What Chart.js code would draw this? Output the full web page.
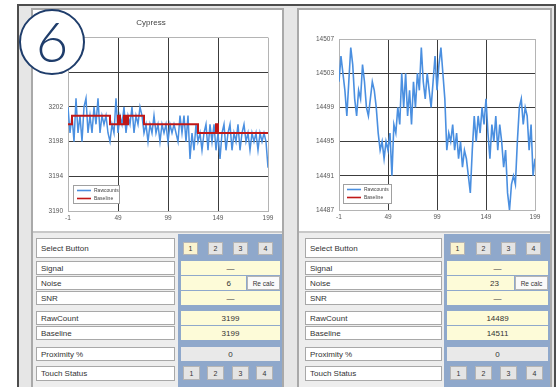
<!DOCTYPE html>
<html>
<head>
<meta charset="utf-8">
<script src="https://cdn.jsdelivr.net/npm/chart.js@4.4.1/dist/chart.umd.min.js"></script>
<style>
  body { margin: 0; width: 556px; height: 387px; overflow: hidden; background: #fff; font-family: "Liberation Sans", Arial, sans-serif; }
  .abs { position: absolute; box-sizing: border-box; }
  .frame { left: 17px; top: 4px; width: 539px; height: 400px; border: 2px solid #4d4d4d; border-bottom: none; background: #e6e6e6; }
  .panel { top: 8px; height: 400px; border: 2px solid #a9a9a9; border-bottom: none; background: #ededed; }
  .chartbox { background: #fff; border-bottom: 2px solid #c8c8c8; }
  .valcol { background: #8fa8cb; }
  .lbl { background: #fff; border: 1px solid #a8a8a8; font-size: 8px; color: #333; padding-left: 4px; display: flex; align-items: center; }
  .cell { background: #fdfbd8; font-size: 8px; color: #333; display: flex; align-items: center; justify-content: center; }
  .cell.gray { background: #e9e9e9; }
  .cell.right { justify-content: flex-end; padding-right: 15px; }
  .btn { background: #e4e4e4; border: 1px solid #b5b5b5; font-size: 7px; color: #333; display: flex; align-items: center; justify-content: center; }
  .btn.sel { background: #fbf3cf; }
  .btn.white { background: #fafafa; font-size: 6.5px; }
  .circle { left: 19px; top: 9px; width: 66px; height: 66px; border: 2.5px solid #1f3d6b; border-radius: 50%; background: #fff; z-index: 5;
            color: #1f3d6b; font-family: "Lato", "Open Sans", sans-serif; font-weight: 300; font-size: 56px; line-height: 60px; text-align: center; }
</style>
</head>
<body>
<div class="abs frame"></div>
<div class="abs panel" style="left:31px;width:253px;"></div>
<div class="abs panel" style="left:297px;width:255px;"></div>
<div class="abs chartbox" style="left:33px;top:10px;width:249px;height:223px;"></div>
<div class="abs chartbox" style="left:299px;top:10px;width:251px;height:223px;"></div>
<div class="abs valcol" style="left:178px;top:234px;width:104px;height:160px;"></div>
<div class="abs valcol" style="left:444px;top:234px;width:106px;height:160px;"></div>
<div class="abs" style="left:34px;top:10px;width:247px;height:220px;"><canvas id="leftChart"></canvas></div>
<div class="abs" style="left:299px;top:10px;width:250px;height:220px;"><canvas id="rightChart"></canvas></div>
<div class="abs circle">6</div>
<div id="tables"></div>

<script>
// sensor readings, one sample every 2 counts starting at -1
const sampleStart = -1;
const sampleStep = 2;

const leftRaw = [
  3202, 3199, 3201, 3198, 3203, 3199, 3201, 3198, 3202, 3203,
  3199, 3201, 3199, 3202, 3200, 3203, 3199, 3201, 3200, 3201,
  3199, 3198, 3200, 3199, 3203, 3199, 3201, 3200, 3202, 3199,
  3201, 3200, 3202, 3199, 3201, 3200, 3202, 3201, 3199, 3200,
  3198, 3200, 3199, 3201, 3199, 3200, 3198, 3200, 3199, 3200,
  3198, 3200, 3199, 3200, 3199, 3198, 3201, 3199, 3201, 3198,
  3201, 3196, 3199, 3197, 3200, 3198, 3199, 3197, 3199, 3200,
  3197, 3200, 3198, 3200, 3197, 3199, 3196, 3199, 3200, 3197,
  3199, 3200, 3197, 3199, 3198, 3200, 3197, 3199, 3200, 3198,
  3199, 3197, 3199, 3198, 3199, 3197, 3199, 3198, 3199, 3198,
  3195
];
const leftBaseline = [
  3200, 3200, 3201, 3201, 3201, 3201, 3201, 3201, 3201, 3201,
  3201, 3201, 3201, 3201, 3201, 3201, 3201, 3201, 3201, 3201,
  3201, 3200, 3200, 3200, 3200, 3201, 3200, 3200, 3201, 3200,
  3201, 3201, 3201, 3201, 3201, 3201, 3201, 3201, 3200, 3200,
  3200, 3200, 3200, 3200, 3200, 3200, 3200, 3200, 3200, 3200,
  3200, 3200, 3200, 3200, 3200, 3200, 3200, 3200, 3200, 3200,
  3200, 3200, 3200, 3200, 3200, 3199, 3199, 3199, 3199, 3199,
  3199, 3199, 3199, 3199, 3200, 3199, 3199, 3199, 3199, 3199,
  3199, 3199, 3199, 3199, 3199, 3199, 3199, 3199, 3199, 3199,
  3199, 3199, 3199, 3199, 3199, 3199, 3199, 3199, 3199, 3199,
  3199
];
const rightRaw = [
  14502, 14505, 14503, 14501, 14498, 14502, 14506, 14504, 14500, 14498,
  14501, 14500, 14504, 14502, 14499, 14498, 14500, 14502, 14501, 14499,
  14496, 14494, 14495, 14493, 14495, 14494, 14496, 14491, 14497, 14496,
  14499, 14497, 14503, 14499, 14503, 14498, 14501, 14497, 14502, 14499,
  14503, 14501, 14506, 14502, 14500, 14503, 14501, 14499, 14502, 14505,
  14501, 14504, 14506, 14503, 14500, 14494, 14496, 14495, 14497, 14494,
  14496, 14493, 14495, 14492, 14494, 14493, 14491, 14489, 14494, 14498,
  14495, 14498, 14496, 14499, 14497, 14500, 14496, 14493, 14497, 14495,
  14498, 14494, 14497, 14495, 14492, 14494, 14489, 14487, 14490, 14491,
  14490, 14495, 14499, 14500, 14497, 14499, 14498, 14494, 14497, 14491,
  14493
];
// baseline sits above the visible range on the right sensor
const rightBaselineX = [-1, 199];
const rightBaseline = [14511, 14511];

const xTicks = { min: -1, max: 199, step: 50 };
const leftY = { min: 3190, max: 3210, step: 4 };
const rightY = { min: 14487, max: 14507, step: 4 };

function points(values) {
  return values.map((v, i) => ({ x: sampleStart + i * sampleStep, y: v }));
}

const boxLegend = {
  id: 'boxLegend',
  afterDatasetsDraw(chart, args, opts) {
    const { ctx, chartArea } = chart;
    const x = chartArea.left + opts.dx;
    const y = chartArea.bottom - opts.dy - opts.h;
    ctx.save();
    ctx.fillStyle = '#fff';
    ctx.fillRect(x, y, opts.w, opts.h);
    ctx.strokeStyle = '#a0a0a0';
    ctx.lineWidth = 1;
    ctx.strokeRect(x + 0.5, y + 0.5, opts.w, opts.h);
    ctx.font = '5px "Liberation Sans", Arial, sans-serif';
    ctx.textBaseline = 'middle';
    chart.data.datasets.forEach((ds, i) => {
      const ly = y + 5.5 + i * 8;
      ctx.strokeStyle = ds.borderColor;
      ctx.lineWidth = 1.6;
      ctx.beginPath();
      ctx.moveTo(x + 4, ly);
      ctx.lineTo(x + 18, ly);
      ctx.stroke();
      ctx.fillStyle = '#444';
      ctx.fillText(ds.label, x + 21, ly);
    });
    ctx.restore();
  }
};

function makeConfig(datasets, yRange, opts) {
  const gridColor = (c) => (c.index === 0 || c.index === c.chart.scales[c.scale.id].ticks.length - 1) ? '#b4b4b4' : '#3c3c3c';
  const tickFont = { size: 6.5, family: '"Liberation Sans", Arial' };
  return {
    type: 'line',
    data: { datasets: datasets },
    options: {
      responsive: true,
      maintainAspectRatio: false,
      animation: false,
      layout: { padding: { left: 0, right: opts.padRight, top: opts.padTop, bottom: 0 } },
      elements: { point: { radius: 0 }, line: { tension: 0 } },
      scales: {
        x: {
          type: 'linear', min: xTicks.min, max: xTicks.max,
          afterFit: (s) => { s.height = opts.xHeight; },
          grid: { color: (c) => gridColor(c), lineWidth: 1, drawTicks: false },
          border: { color: '#b4b4b4' },
          ticks: { stepSize: xTicks.step, padding: 3, color: '#555', font: tickFont, callback: (v) => String(v), maxRotation: 0 }
        },
        y: {
          min: yRange.min, max: yRange.max,
          afterFit: (s) => { s.width = opts.yWidth; },
          grid: { color: (c) => gridColor(c), lineWidth: 1, drawTicks: false },
          border: { color: '#b4b4b4' },
          ticks: { stepSize: yRange.step, padding: 5, color: '#555', font: tickFont, callback: (v) => String(v) }
        }
      },
      plugins: {
        legend: { display: false },
        tooltip: { enabled: false },
        title: opts.title ? {
          display: true, text: opts.title, color: '#444',
          font: { size: 8, weight: 'normal', family: '"Liberation Sans", Arial' },
          padding: { top: 8, bottom: 10 }
        } : { display: false },
        boxLegend: opts.legend
      }
    },
    plugins: [boxLegend]
  };
}

new Chart(document.getElementById('leftChart'), makeConfig([
  { label: 'Rawcounts', data: points(leftRaw), borderColor: '#4a8fe0', borderWidth: 1.5, order: 1 },
  { label: 'Baseline', data: points(leftBaseline), borderColor: '#c01818', borderWidth: 2, stepped: true, order: 0 }
], leftY, { padRight: 13, padTop: 0, xHeight: 19, yWidth: 34, title: 'Cypress', legend: { dx: 5, dy: 8, w: 46, h: 18 } }));

new Chart(document.getElementById('rightChart'), makeConfig([
  { label: 'Rawcounts', data: points(rightRaw), borderColor: '#4a8fe0', borderWidth: 1.6, order: 1 },
  { label: 'Baseline', data: rightBaseline.map((v, i) => ({ x: rightBaselineX[i], y: v })), borderColor: '#c01818', borderWidth: 2, order: 0 }
], rightY, { padRight: 14, padTop: 29, xHeight: 20, yWidth: 40, title: null, legend: { dx: 4, dy: 7, w: 48, h: 19 } }));

// status table under each chart
const rowLabels = ['Select Button', 'Signal', 'Noise', 'SNR', 'RawCount', 'Baseline', 'Proximity %', 'Touch Status'];
const rowTops = [238, 261, 276, 291, 311, 326, 347, 366];
const rowHeights = [20, 14, 14, 14, 14, 14, 14, 15];
const panels = [
  { lblX: 36, lblW: 139, valX: 181, valW: 99, noise: '6', raw: '3199', base: '3199', prox: '0',
    selBtn: [183, 208, 233, 258], touchBtn: [183, 207, 232, 256] },
  { lblX: 305, lblW: 137, valX: 447, valW: 101, noise: '23', raw: '14489', base: '14511', prox: '0',
    selBtn: [450, 476, 501, 526], touchBtn: [450, 475, 500, 526] }
];
let html = '';
const box = (cls, x, y, w, h, txt) => `<div class="abs ${cls}" style="left:${x}px;top:${y}px;width:${w}px;height:${h}px;">${txt}</div>`;
panels.forEach((p) => {
  rowLabels.forEach((l, i) => { html += box('lbl', p.lblX, rowTops[i], p.lblW, rowHeights[i], l); });
  p.selBtn.forEach((bx, i) => { html += box(i === 0 ? 'btn sel' : 'btn', bx, 242, 15, 13, i + 1); });
  html += box('cell', p.valX, 261, p.valW, 14, '—');
  html += box('cell right', p.valX, 276, p.valW - 34, 14, p.noise);
  html += box('btn white', p.valX + p.valW - 33, 276, 33, 14, 'Re calc');
  html += box('cell', p.valX, 291, p.valW, 14, '—');
  html += box('cell', p.valX, 311, p.valW, 14, p.raw);
  html += box('cell', p.valX, 326, p.valW, 14, p.base);
  html += box('cell gray', p.valX, 347, p.valW, 14, p.prox);
  p.touchBtn.forEach((bx, i) => { html += box('btn', bx, 366, 17, 14, i + 1); });
});
document.getElementById('tables').innerHTML = html;
</script>
</body>
</html>
